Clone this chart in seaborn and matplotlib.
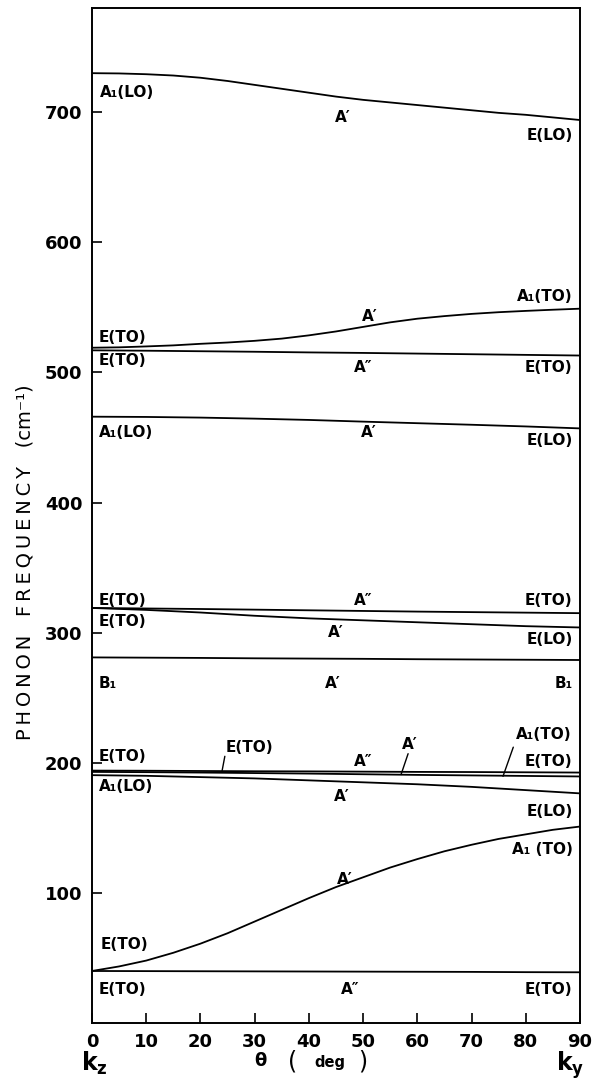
import numpy as np
import pandas as pd
import matplotlib
matplotlib.use("Agg")
import matplotlib.pyplot as plt
import seaborn as sns

# --- angle between phonon wavevector and the z axis (deg) ---
theta = [0, 10, 20, 30, 40, 50, 60, 70, 80, 90]
theta_fine = [0, 5, 10, 15, 20, 25, 30, 35, 40, 45, 50, 55, 60, 65, 70, 75, 80, 85, 90]

# --- branch frequencies (cm^-1) ---
lo_730 = [730, 729.8, 729.2, 728.2, 726.5, 724, 721, 718, 715, 712,
          709.5, 707.5, 705.5, 703.5, 701.5, 699.5, 698, 696, 694]
to_519 = [519, 519.3, 520, 520.8, 522, 523, 524.3, 526, 528.5, 531.5,
          535, 538.5, 541.3, 543.3, 545, 546.3, 547.3, 548.2, 549]
to_517 = [517, 516.7, 516.3, 515.9, 515.4, 515, 514.5, 514, 513.5, 513]
lo_466 = [466, 465.8, 465.3, 464.5, 463.5, 462.2, 461, 459.8, 458.5, 457]
to_319 = [319, 318.6, 318.2, 317.7, 317.2, 316.7, 316.2, 315.8, 315.4, 315]
to_lo_319 = [319, 317.5, 315.5, 313, 311, 309.5, 308, 306.5, 305, 304]
b1_281 = [281, 280.8, 280.6, 280.3, 280.1, 279.9, 279.6, 279.4, 279.2, 279]
to_194 = [194, 193.9, 193.7, 193.5, 193.4, 193.2, 193, 192.9, 192.7, 192.5]
to_193 = [193, 192.8, 192.5, 192.1, 191.7, 191.2, 190.7, 190.3, 189.9, 189.5]
lo_190 = [190.5, 190, 189, 188, 186.5, 185, 183.5, 181.5, 179, 176.5]
to_40_rise = [40, 43.5, 48, 54, 61, 69, 78, 87, 96, 104.5,
              112, 119.5, 126, 132, 137, 141.5, 145, 148.5, 151]
to_40 = [40, 39.9, 39.8, 39.7, 39.6, 39.5, 39.4, 39.3, 39.1, 39]

branches = {
    "lo_730": (theta_fine, lo_730),
    "to_519": (theta_fine, to_519),
    "to_517": (theta, to_517),
    "lo_466": (theta, lo_466),
    "to_319": (theta, to_319),
    "to_lo_319": (theta, to_lo_319),
    "b1_281": (theta, b1_281),
    "to_194": (theta, to_194),
    "to_193": (theta, to_193),
    "lo_190": (theta, lo_190),
    "to_40_rise": (theta_fine, to_40_rise),
    "to_40": (theta, to_40),
}

df = pd.concat([pd.DataFrame({"theta": x, "freq": y, "branch": name})
                for name, (x, y) in branches.items()], ignore_index=True)

# mode labels: text, theta, freq, alignment
labels = [
    ("A₁(LO)", 1.5, 715, "left"), ("A′", 46.3, 696, "center"), ("E(LO)", 88.6, 682, "right"),
    ("A₁(TO)", 88.6, 558, "right"), ("A′", 51.3, 543, "center"), ("E(TO)", 1.2, 527, "left"),
    ("E(TO)", 1.2, 509.5, "left"), ("A″", 50, 504, "center"), ("E(TO)", 88.6, 504, "right"),
    ("A₁(LO)", 1.2, 453.5, "left"), ("A′", 51, 453.5, "center"), ("E(LO)", 88.6, 448, "right"),
    ("E(TO)", 1.2, 325, "left"), ("A″", 50, 325, "center"), ("E(TO)", 88.6, 325, "right"),
    ("E(TO)", 1.2, 308.5, "left"), ("A′", 45, 300, "center"), ("E(LO)", 88.6, 294.5, "right"),
    ("B₁", 1.2, 261, "left"), ("A′", 44.5, 261, "center"), ("B₁", 88.6, 261, "right"),
    ("E(TO)", 1.2, 205, "left"), ("E(TO)", 29, 212, "center"), ("A″", 50, 201, "center"),
    ("A′", 58.7, 214, "center"), ("A₁(TO)", 88.5, 222, "right"), ("E(TO)", 88.6, 201, "right"),
    ("A₁(LO)", 1.2, 182, "left"), ("A′", 46, 174, "center"), ("E(LO)", 88.6, 162.5, "right"),
    ("A₁ (TO)", 88.6, 133.5, "right"), ("A′", 46.7, 110.5, "center"), ("E(TO)", 1.5, 60.5, "left"),
    ("E(TO)", 1.2, 26, "left"), ("A″", 47.6, 26, "center"), ("E(TO)", 88.6, 26, "right"),
]
# short leader lines from labels to the crowded branches near 190 cm^-1
leaders = [((24.5, 205), (24, 194)), ((58.3, 207), (57, 191)), ((77.7, 212), (75.8, 189.6))]

sns.set_theme(style="ticks")
plt.rcParams["font.family"] = ["DejaVu Sans"]
plt.rcParams["text.color"] = "black"

fig = plt.figure(figsize=(5.92, 10.82), dpi=100)
ax = fig.add_axes([0.1554, 0.0545, 0.8243, 0.938])

sns.lineplot(data=df, x="theta", y="freq", units="branch", estimator=None,
             color="black", lw=1.3, legend=False, ax=ax)

for txt, x, y, ha in labels:
    ax.text(x, y, txt, ha=ha, va="center", fontsize=11, fontweight="bold", color="black")
for (x0, y0), (x1, y1) in leaders:
    ax.plot([x0, x1], [y0, y1], color="black", lw=1.0)

ax.set_xlim(0, 90)
ax.set_ylim(0, 780)
ax.set_xticks(range(0, 91, 10))
ax.set_yticks(range(100, 701, 100))
ax.set_xlabel("")
ax.set_ylabel("")
ax.tick_params(direction="in", length=7, width=1.2, labelsize=13, pad=7, colors="black")
for lab in ax.get_xticklabels() + ax.get_yticklabels():
    lab.set_fontweight("bold")
for s in ax.spines.values():
    s.set_linewidth(1.4)
    s.set_color("black")
    s.set_visible(True)

# spaced-out axis title, as in the lettering of the original
ylab = "\u2009".join("PHONON") + "   " + "\u2009".join("FREQUENCY") + "   (cm⁻¹)"
fig.text(0.042, 0.48, ylab, rotation=90, ha="center", va="center", fontsize=14, color="black")
fig.text(0.16, 0.017, r"$\mathbf{k_z}$", ha="center", va="center", fontsize=17, color="black")
fig.text(0.963, 0.016, r"$\mathbf{k_y}$", ha="center", va="center", fontsize=17, color="black")
fig.text(0.44, 0.019, "θ", ha="center", va="center", fontsize=13, fontweight="bold", color="black")
fig.text(0.495, 0.019, "(", ha="center", va="center", fontsize=17, color="black")
fig.text(0.557, 0.018, "deg", ha="center", va="center", fontsize=10.5, fontweight="bold", color="black")
fig.text(0.612, 0.019, ")", ha="center", va="center", fontsize=17, color="black")

fig.savefig("out.png", dpi=100)
